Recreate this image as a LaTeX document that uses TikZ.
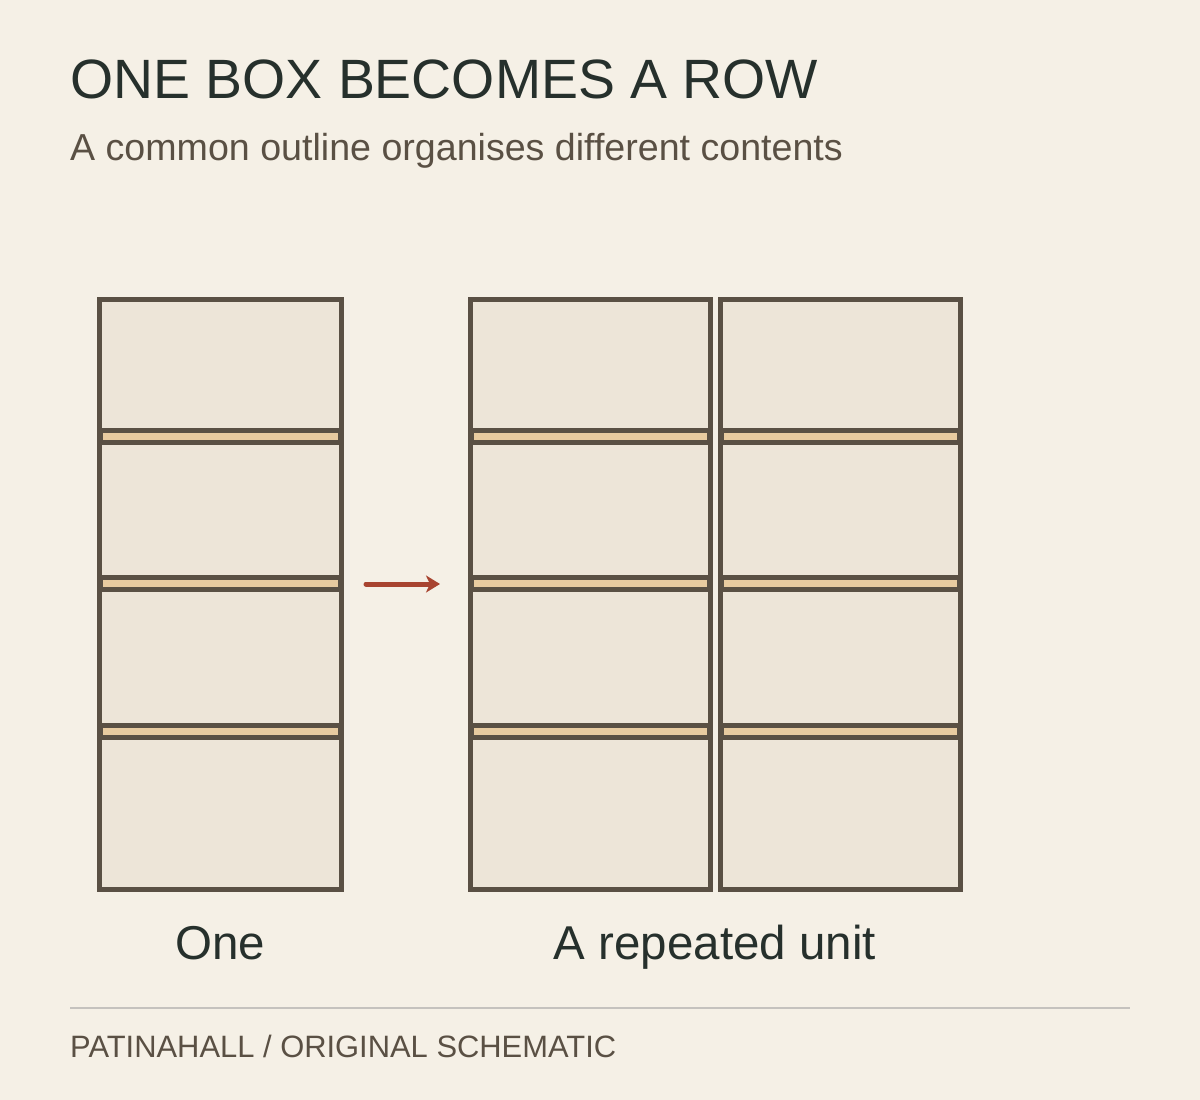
\documentclass[tikz,border=0pt]{standalone}
\usepackage{fontspec}
\setmainfont{Liberation Sans}
\usetikzlibrary{arrows.meta}
\definecolor{bg}{HTML}{F5F0E6}
\definecolor{fillc}{HTML}{EDE5D8}
\definecolor{ink}{HTML}{5A5044}
\definecolor{tan}{HTML}{E8CBA0}
\definecolor{red}{HTML}{A84430}
\definecolor{title}{HTML}{26302C}
\definecolor{sub}{HTML}{5A5044}
\begin{document}
\begin{tikzpicture}[x=1pt,y=-1pt,
  box/.style={draw=ink,fill=fillc,line width=5pt},
  shelf/.style={draw=ink,fill=tan,line width=5pt},
  txt/.style={anchor=base west,inner sep=0pt}]
\fill[bg] (0,0) rectangle (1200,1100);
\useasboundingbox (0,0) rectangle (1200,1100);
\node[txt,text=title,font=\fontsize{55.4}{62}\selectfont] (t) at (70,98) {ONE BOX BECOMES A ROW};
\node[txt,text=sub,font=\fontsize{37.6}{44}\selectfont] (s) at (70,160) {A common outline organises different contents};
\foreach \xa/\xb/\n in {99/341/a,470/710/b,720/960/c}{
  \draw[box] (\xa,299) rectangle (\xb,889);
  \foreach \y in {436,583,731}{
    \draw[shelf] (\xa+1,\y-6) rectangle (\xb-1,\y+6);
  }
  \draw[ink,line width=5pt] (\xa,299) rectangle (\xb,889);
}
\coordinate (p1) at (366,584);
\coordinate (p2) at (440,584);
\draw[red,line width=5pt,line cap=round,-{Stealth[length=14pt,width=17pt,inset=4pt]}] (p1) -- (p2);
\node[anchor=base,inner sep=0pt,text=title,font=\fontsize{47.5}{54}\selectfont] (l1) at (220,959) {One};
\node[anchor=base,inner sep=0pt,text=title,font=\fontsize{47.5}{54}\selectfont] (l2) at (715,959) {A repeated unit};
\coordinate (r1) at (70,1008);
\coordinate (r2) at (1130,1008);
\draw[color=ink!35,line width=1.5pt] (r1) -- (r2);
\node[txt,text=sub,font=\fontsize{30.9}{36}\selectfont] (f) at (70,1057) {PATINAHALL / ORIGINAL SCHEMATIC};
\end{tikzpicture}
\end{document}
